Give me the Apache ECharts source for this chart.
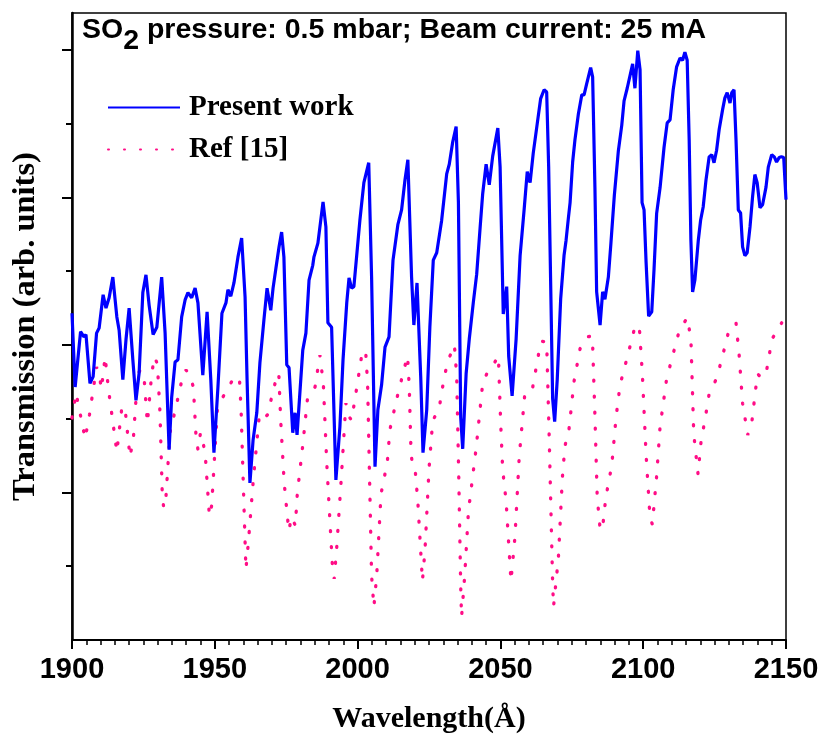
<!DOCTYPE html>
<html>
<head>
<meta charset="utf-8">
<script src="https://cdn.jsdelivr.net/npm/echarts@6/dist/echarts.min.js"></script>
<style>
html, body { margin: 0; padding: 0; background: #fff; }
#chart { width: 821px; height: 736px; }
</style>
</head>
<body>
<div id="chart"></div>
<script>
// Present work: wavelength (Å) and transmission (arb. units)
var presentWave = [
  1900.0,1901.1,1903.0,1904.2,1904.9,1906.3,1907.4,1908.6,1909.5,1910.9,
  1911.9,1913.0,1914.3,1915.7,1916.5,1917.8,1918.9,1920.0,1921.3,1922.4,
  1923.5,1924.8,1925.9,1927.0,1928.4,1929.7,1931.4,1932.6,1934.0,1934.9,
  1936.1,1937.1,1938.4,1939.6,1940.6,1941.9,1943.1,
  1944.1,1945.8,1947.3,1948.6,1949.7,1951.1,1952.5,1953.9,1954.6,1955.6,
  1956.7,1958.1,1959.4,1960.6,1961.3,1962.3,1963.4,1964.7,1965.8,1967.2,
  1968.3,1969.6,1970.4,1971.4,1972.5,1973.4,1974.2,1975.2,1976.0,1977.3,
  1978.1,1978.8,1980.8,1981.9,1983.0,1984.3,
  1984.7,1986.1,1987.9,1988.9,1989.6,1990.9,1992.4,1993.8,1994.9,1996.2,
  1997.0,1997.9,1998.7,2000.8,2002.2,2003.9,2004.9,2006.1,2007.1,2008.4,
  2009.6,2011.0,2012.4,2014.1,2015.4,2016.6,2017.6,2018.9,2019.7,2020.8,
  2022.1,2022.9,2024.2,2025.3,
  2026.5,2027.7,2029.4,2031.2,2032.1,2033.3,2034.5,2035.3,2036.1,2036.8,
  2038.0,2039.1,2040.5,2041.7,2042.9,2043.8,2045.0,2046.1,2047.3,2049.1,
  2049.9,2051.0,2052.2,2052.9,2054.1,2055.5,2056.9,2058.3,2059.4,2060.4,
  2061.5,2062.9,2064.1,2065.3,2066.2,2066.9,2068.3,2069.0,
  2069.9,2071.1,2072.3,2073.0,2073.8,2074.4,2075.3,2076.1,2077.3,2078.5,
  2079.3,2080.2,2081.6,2082.3,2083.1,2083.7,2084.9,2085.8,2086.6,2087.8,
  2088.7,2089.9,2091.3,2092.5,2093.3,2094.4,2096.3,2097.1,2098.1,2098.9,
  2099.6,2100.3,2101.0,2101.9,2103.0,2103.8,2104.7,2105.9,2107.3,2108.4,
  2109.4,
  2110.5,2111.7,2112.9,2113.8,2114.6,2115.4,2116.1,2116.7,2117.3,2118.1,
  2119.3,2120.1,2121.0,2122.0,2123.1,2124.0,2124.8,2125.7,2126.6,2127.8,
  2128.6,2129.4,2130.4,2131.0,2131.8,2132.5,2133.3,2134.1,2134.8,2135.6,
  2136.4,2137.4,2138.3,2139.1,2139.9,2140.9,2141.8,2143.0,2143.8,2145.0,
  2145.9,2146.7,2147.6,2148.4,2149.2,2150.0
];
var presentTrans = [
  4.43,3.43,4.18,4.11,4.14,3.48,3.57,4.16,4.23,4.68,
  4.50,4.64,4.92,4.38,4.20,3.53,4.07,4.50,3.80,3.25,
  3.62,4.71,4.95,4.54,4.14,4.24,4.92,4.16,2.58,3.29,
  3.77,3.80,4.38,4.61,4.71,4.64,4.77,
  4.57,3.59,4.45,3.53,2.54,3.43,4.43,4.57,4.75,4.66,
  4.84,5.19,5.45,4.65,3.53,2.13,2.71,3.08,3.76,4.34,
  4.77,4.47,4.77,5.04,5.33,5.53,5.19,3.73,3.69,2.81,
  3.08,2.78,3.93,4.16,4.88,5.08,
  5.19,5.38,5.94,5.60,4.30,4.24,2.17,2.89,3.80,4.57,
  4.91,4.77,4.79,5.69,6.20,6.47,4.92,2.35,3.12,3.46,
  3.97,4.11,5.15,5.63,5.83,6.24,6.51,4.92,4.27,4.84,
  3.57,2.54,3.12,4.24,
  5.15,5.25,5.68,6.32,6.45,6.75,6.96,5.93,3.02,2.59,
  3.61,4.08,4.57,4.96,5.59,6.05,6.45,6.17,6.56,6.94,
  6.41,4.42,4.79,3.85,3.31,4.08,5.21,5.83,6.35,6.20,
  6.60,7.00,7.34,7.46,7.43,6.41,3.27,2.96,
  3.53,4.62,5.22,5.42,5.72,5.93,6.48,6.78,7.13,7.39,
  7.39,7.54,7.76,7.63,6.13,4.72,4.27,4.72,4.62,4.92,
  5.38,6.03,6.63,6.98,7.31,7.48,7.81,7.48,7.99,7.73,
  5.93,5.83,5.13,4.39,4.45,5.03,5.78,6.13,6.68,7.01,
  7.05,
  7.46,7.77,7.89,7.86,7.97,7.86,6.78,5.42,4.72,4.88,
  5.42,5.69,5.87,6.24,6.55,6.58,6.47,6.64,6.92,7.19,
  7.35,7.42,7.28,7.42,7.46,6.78,5.83,5.79,5.33,5.21,
  5.25,5.60,6.01,6.31,6.20,5.86,5.90,6.14,6.41,6.58,
  6.55,6.48,6.54,6.55,6.54,5.97
];

// Ref [15]
var refWave = [
  1900.0,1901.4,1904.6,1906.1,1908.6,1909.5,1910.3,1911.6,1912.7,1915.7,
  1917.4,1918.0,1918.6,1920.3,1921.5,1923.0,1924.0,1925.2,1926.4,1927.9,
  1928.9,1929.9,1930.8,1931.6,1932.1,1932.9,1934.3,1936.7,1939.0,1939.9,
  1941.0,1942.5,1943.4,1944.1,1945.0,1945.7,1946.6,1948.1,1948.9,1950.9,
  1952.8,1956.0,1958.6,1959.2,1960.2,1960.9,1961.7,1963.5,1965.6,1967.0,
  1968.4,1971.1,1972.4,1973.1,1974.3,1975.9,1976.9,1978.2,1978.9,1980.8,
  1982.5,1985.1,1986.8,1988.0,1989.2,1991.3,1991.8,1992.7,1994.2,1995.9,
  1996.7,1997.9,1999.7,2001.4,2002.8,2003.5,2004.9,2005.7,2006.7,2008.2,
  2010.4,2011.3,2013.7,2016.4,2017.5,2018.1,2018.7,2019.3,2020.2,2021.1,
  2022.7,2023.6,2025.0,2026.3,2028.6,2030.4,2031.8,2033.9,2034.7,2035.4,
  2036.1,2036.4,2037.5,2038.8,2041.5,2043.8,2045.8,2047.5,2049.3,2050.1,
  2050.8,2052.0,2053.7,2055.1,2056.6,2058.6,2061.2,2063.1,2064.2,2066.2,
  2067.1,2068.3,2068.6,2070.3,2071.7,2072.6,2074.0,2075.8,2077.9,2080.4,
  2082.2,2083.1,2083.9,2084.9,2085.7,2086.9,2089.0,2090.5,2091.9,2094.8,
  2096.8,2098.6,2099.7,2101.0,2102.4,2103.2,2104.7,2105.9,2108.2,2111.1,
  2112.6,2115.4,2116.7,2117.7,2119.2,2120.2,2122.2,2123.1,2125.5,2127.2,
  2129.9,2132.5,2133.6,2134.8,2136.6,2138.0,2140.0,2141.5,2143.1,2145.1,
  2148.5
];
var refTrans = [
  3.01,3.35,2.73,3.05,3.70,3.61,3.40,3.84,3.42,2.55,
  3.13,3.17,3.13,2.48,2.74,3.61,3.66,3.58,2.94,3.61,
  3.84,3.74,3.09,1.99,1.79,1.94,2.81,3.21,3.62,3.66,
  3.61,3.43,2.78,2.58,2.81,2.82,2.55,1.68,1.82,3.13,
  3.29,3.51,3.57,3.13,1.83,0.96,1.30,2.18,3.05,3.00,
  3.05,3.48,3.62,2.96,2.13,1.48,1.67,1.55,1.99,2.64,
  3.29,3.43,3.86,3.48,2.40,0.92,0.83,1.26,2.14,3.21,
  3.04,2.98,3.42,3.85,3.93,3.48,0.87,0.45,0.88,1.98,
  2.41,2.85,3.27,3.69,3.85,3.42,2.55,2.33,2.29,1.87,
  0.80,1.22,2.32,2.97,3.15,3.58,3.80,4.00,3.57,2.26,
  0.73,0.31,0.87,1.74,2.60,3.48,3.66,3.73,3.85,2.94,
  2.31,1.88,0.80,1.40,2.49,3.36,3.40,3.82,4.05,4.04,
  2.73,0.76,0.45,1.11,2.20,2.63,2.85,3.51,3.95,4.11,
  4.12,3.04,1.94,1.51,1.49,1.93,2.37,3.02,3.46,3.89,
  4.20,4.27,3.61,2.52,1.65,1.57,2.22,2.89,3.54,3.97,
  4.19,4.37,4.09,2.79,2.25,2.67,3.12,3.34,3.53,3.76,
  4.18,4.30,3.86,3.21,2.78,2.94,3.61,3.55,3.63,4.08,
  4.30
];

var majorYTicks = [2, 4, 6, 8];
var minorYTicks = [1, 3, 5, 7];

function pairs(xs, ys) {
  return xs.map(function (x, i) { return [x, ys[i]]; });
}

var chart = echarts.init(document.getElementById('chart'));

var boldSans = { fontFamily: 'Liberation Sans', fontWeight: 'bold', fontSize: 28.5, color: '#000', lineHeight: 31, verticalAlign: 'top' };

var option = {
  backgroundColor: '#fff',
  animation: false,
  title: {
    text: '{a|SO}{s|2}{a| pressure: 0.5 mbar; Beam current: 25 mA}',
    left: 82,
    top: 16,
    padding: 0,
    textStyle: {
      rich: {
        a: boldSans,
        s: Object.assign({}, boldSans, { padding: [11, 0, 0, 0] })
      }
    }
  },
  legend: {
    orient: 'vertical',
    left: 107,
    top: 93,
    padding: 0,
    itemWidth: 72,
    itemHeight: 14,
    itemGap: 13,
    data: ['Present work', 'Ref [15]'],
    itemStyle: { opacity: 0 },
    textStyle: {
      fontFamily: 'Liberation Serif',
      fontWeight: 'bold',
      fontSize: 29,
      color: '#000',
      padding: [0, 0, 0, 4]
    }
  },
  grid: {
    left: 72,
    right: 35,
    top: 13,
    bottom: 96,
    show: true,
    borderColor: '#000',
    borderWidth: 1.5,
    outerBoundsMode: 'none'
  },
  xAxis: {
    type: 'value',
    min: 1900,
    max: 2150,
    interval: 50,
    axisLine: { onZero: false, lineStyle: { color: '#000', width: 2 } },
    axisTick: { inside: false, length: 9, lineStyle: { color: '#000', width: 2 } },
    minorTick: { show: true, splitNumber: 10, length: 5, lineStyle: { color: '#000', width: 1.5 } },
    splitLine: { show: false },
    axisLabel: {
      margin: 15,
      fontFamily: 'Liberation Sans',
      fontWeight: 'bold',
      fontSize: 29,
      color: '#000',
      formatter: function (v) { return String(v); }
    },
    name: 'Wavelength(Å)',
    nameLocation: 'middle',
    nameGap: 64,
    nameTextStyle: { fontFamily: 'Liberation Serif', fontWeight: 'bold', fontSize: 30, color: '#000' }
  },
  yAxis: [
    {
      type: 'value',
      min: 0,
      max: 8.5,
      position: 'left',
      axisLine: { onZero: false, lineStyle: { color: '#000', width: 2.5 } },
      axisTick: { customValues: majorYTicks, length: 10, lineStyle: { color: '#000', width: 2 } },
      axisLabel: { show: false },
      splitLine: { show: false },
      name: 'Transmission (arb. units)',
      nameLocation: 'middle',
      nameGap: 30,
      nameTextStyle: { fontFamily: 'Liberation Serif', fontWeight: 'bold', fontSize: 32.5, color: '#000' }
    },
    {
      type: 'value',
      min: 0,
      max: 8.5,
      position: 'left',
      axisLine: { show: false },
      axisTick: { customValues: minorYTicks, length: 6, lineStyle: { color: '#000', width: 2 } },
      axisLabel: { show: false },
      splitLine: { show: false }
    }
  ],
  series: [
    {
      name: 'Present work',
      type: 'line',
      data: pairs(presentWave, presentTrans),
      symbol: 'none',
      lineStyle: { color: '#0000ff', width: 3.2 },
      itemStyle: { color: '#0000ff' },
      z: 3
    },
    {
      name: 'Ref [15]',
      type: 'line',
      data: pairs(refWave, refTrans),
      symbol: 'none',
      lineStyle: { color: '#ff0d86', width: 3.3, type: [1, 15], cap: 'round' },
      itemStyle: { color: '#ff0d86' },
      z: 2
    }
  ]
};

chart.setOption(option);
</script>
</body>
</html>
